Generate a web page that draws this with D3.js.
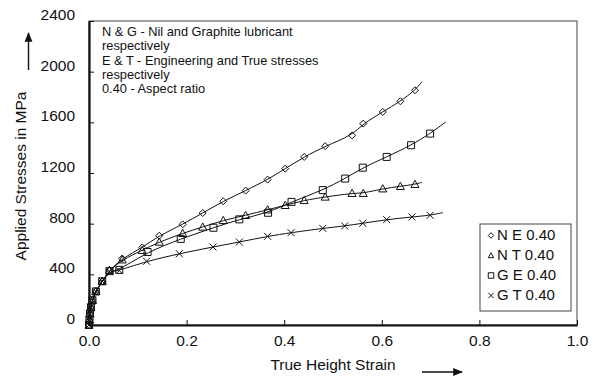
<!doctype html>
<html>
<head>
<meta charset="utf-8">
<style>
  body { margin: 0; background: #fff; }
  svg { display: block; }
  text { font-family: "Liberation Sans", Arial, Helvetica, sans-serif; fill: #111; }
</style>
<script src="https://d3js.org/d3.v7.min.js"></script>
</head>
<body>
<svg id="chart" width="597" height="378"></svg>
<script>
// tick values
var xTicks = [0, 0.2, 0.4, 0.6, 0.8, 1.0];
var yTicks = [0, 400, 800, 1200, 1600, 2000, 2400];

// [true height strain, applied stress MPa]
var neData = [[0,0],[0.001,40],[0.002,90],[0.004,140],[0.007,195],[0.014,265],[0.027,345],[0.042,432],
  [0.068,525],[0.109,612],[0.144,705],[0.192,795],[0.233,884],[0.275,977],[0.321,1061],[0.366,1148],
  [0.402,1234],[0.441,1327],[0.484,1412],[0.539,1497],[0.562,1590],[0.602,1682],[0.638,1766],[0.668,1853]];
var ntData = [[0,0],[0.001,40],[0.002,90],[0.004,140],[0.007,195],[0.014,265],[0.027,345],[0.042,432],
  [0.068,515],[0.109,590],[0.144,655],[0.192,724],[0.233,774],[0.275,826],[0.321,866],[0.366,910],
  [0.402,945],[0.441,984],[0.484,1011],[0.539,1040],[0.562,1040],[0.602,1076],[0.638,1095],[0.668,1111]];
var geData = [[0,0],[0.001,40],[0.002,90],[0.004,140],[0.007,195],[0.014,265],[0.027,345],[0.042,425],
  [0.062,435],[0.12,576],[0.188,680],[0.255,768],[0.308,834],[0.367,886],[0.415,972],[0.479,1065],
  [0.525,1156],[0.561,1242],[0.610,1327],[0.660,1419],[0.699,1511]];
var gtData = [[0,0],[0.001,40],[0.002,90],[0.004,140],[0.007,195],[0.014,265],[0.027,345],[0.042,420],
  [0.062,430],[0.118,503],[0.185,563],[0.254,616],[0.308,655],[0.366,700],[0.414,729],[0.479,763],
  [0.524,782],[0.561,803],[0.610,832],[0.662,853],[0.699,866]];

// where each fitted line stops
var neEnd = [0.682, 1919];
var ntEnd = [0.682, 1126];
var geEnd = [0.731, 1603];
var gtEnd = [0.725, 887];

var seriesNames = ["N E 0.40", "N T 0.40", "G E 0.40", "G T 0.40"];
var notes = ["N & G - Nil and Graphite lubricant", "respectively",
  "E & T - Engineering and True stresses", "respectively", "0.40 - Aspect ratio"];

function drawChart() {
  var svg = d3.select("#chart");
  var pl = 89, pr = 577, pt = 21, pb = 325;

  var x = d3.scaleLinear().domain([0, 1]).range([pl, pr]);
  var y = d3.scaleLinear().domain([0, 2400]).range([pb, pt]);

  // frame: thin top/right, heavy left/bottom
  svg.append("rect").attr("x", pl).attr("y", pt)
    .attr("width", pr - pl).attr("height", pb - pt)
    .attr("fill", "none").attr("stroke", "#444").attr("stroke-width", 1);

  var gx = svg.append("g").attr("transform", "translate(0," + pb + ")")
    .call(d3.axisBottom(x).tickValues(xTicks).tickSizeInner(-5).tickSizeOuter(0)
      .tickFormat(d3.format(".1f")));
  var gy = svg.append("g").attr("transform", "translate(" + pl + ",0)")
    .call(d3.axisLeft(y).tickValues(yTicks).tickSizeInner(-5).tickSizeOuter(0)
      .tickFormat(d3.format("d")));

  [gx, gy].forEach(function(g) {
    g.select(".domain").attr("stroke", "#111").attr("stroke-width", 2.2);
    g.selectAll(".tick line").attr("stroke", "#111").attr("stroke-width", 1);
    g.selectAll(".tick text").attr("font-family", null).attr("font-size", 15.5).attr("fill", "#111");
  });
  gx.selectAll(".tick text").attr("y", 10).attr("dy", "0.71em");
  gy.selectAll(".tick text").attr("x", -14).attr("dy", "-0.1em");

  // axis titles + arrows
  svg.append("text").attr("x", 333).attr("y", 370).attr("text-anchor", "middle")
    .attr("font-size", 15.5).text("True Height Strain");
  svg.append("text").attr("transform", "translate(26,176) rotate(-90)")
    .attr("text-anchor", "middle").attr("font-size", 15.5).text("Applied Stresses in MPa");

  svg.append("defs").append("marker").attr("id", "arr")
    .attr("viewBox", "0 0 10 10").attr("refX", 9).attr("refY", 5)
    .attr("markerWidth", 7).attr("markerHeight", 7).attr("orient", "auto")
    .append("path").attr("d", "M0,1 L10,5 L0,9 Z").attr("fill", "#111");
  svg.append("line").attr("x1", 422).attr("y1", 372).attr("x2", 462).attr("y2", 372)
    .attr("stroke", "#111").attr("stroke-width", 1.4).attr("marker-end", "url(#arr)");
  svg.append("line").attr("x1", 28.5).attr("y1", 70).attr("x2", 28.5).attr("y2", 33)
    .attr("stroke", "#111").attr("stroke-width", 1.4).attr("marker-end", "url(#arr)");

  // notes
  svg.append("g").selectAll("text").data(notes).enter().append("text")
    .attr("x", 102).attr("y", function(d, i) { return 36 + i * 14.3; })
    .attr("font-size", 12.8).text(function(d) { return d; });

  // markers
  function shape(kind, s) {
    var h = s / 2;
    if (kind === "diamond") return "M0," + (-h) + "L" + h + ",0L0," + h + "L" + (-h) + ",0Z";
    if (kind === "triangle") return "M0," + (-h) + "L" + h + "," + (h * 0.8) + "L" + (-h) + "," + (h * 0.8) + "Z";
    if (kind === "square") return "M" + (-h) + "," + (-h) + "h" + s + "v" + s + "h" + (-s) + "Z";
    return "M" + (-h) + "," + (-h) + "L" + h + "," + h + "M" + h + "," + (-h) + "L" + (-h) + "," + h;
  }

  var series = [
    { data: neData, end: neEnd, kind: "diamond" },
    { data: ntData, end: ntEnd, kind: "triangle" },
    { data: geData, end: geEnd, kind: "square" },
    { data: gtData, end: gtEnd, kind: "cross" }
  ];

  var line = d3.line().x(function(d) { return x(d[0]); }).y(function(d) { return y(d[1]); })
    .curve(d3.curveBasis);

  series.forEach(function(s) {
    svg.append("path").datum(s.data.concat([s.end]))
      .attr("d", line).attr("fill", "none").attr("stroke", "#111").attr("stroke-width", 1);
    svg.append("g").selectAll("path").data(s.data).enter().append("path")
      .attr("transform", function(d) { return "translate(" + x(d[0]) + "," + y(d[1]) + ")"; })
      .attr("d", shape(s.kind, s.kind === "triangle" ? 8 : 7))
      .attr("fill", "none").attr("stroke", "#111").attr("stroke-width", 1);
  });

  // legend
  var lg = svg.append("g");
  lg.append("rect").attr("x", 480).attr("y", 224).attr("width", 91).attr("height", 87)
    .attr("fill", "#fff").attr("stroke", "#444").attr("stroke-width", 1);
  seriesNames.forEach(function(name, i) {
    var by = 240 + i * 20;
    lg.append("path").attr("transform", "translate(491," + (by - 4.5) + ")")
      .attr("d", shape(series[i].kind, 5.5)).attr("fill", "none")
      .attr("stroke", "#111").attr("stroke-width", 1);
    lg.append("text").attr("x", 497).attr("y", by).attr("font-size", 15).text(name);
  });
}

drawChart();
</script>
</body>
</html>
